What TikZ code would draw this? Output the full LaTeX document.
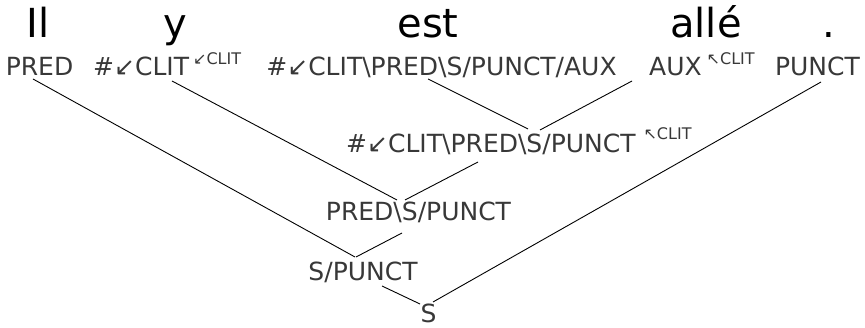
\documentclass[tikz,border=0pt]{standalone}
\usepackage{fontspec}
\setmainfont{DejaVu Sans}
\definecolor{catgray}{HTML}{383838}
\newcommand{\supcat}[2][11]{\raisebox{#1pt}{\fontsize{16}{16}\selectfont #2}}
\tikzset{
  word/.style={font=\fontsize{40}{40}\selectfont, text=black, inner sep=0pt, anchor=base},
  cat/.style={font=\fontsize{25}{25}\selectfont, text=catgray, inner sep=0pt, anchor=base},
  treeedge/.style={draw=black, line width=0.9pt},
}
\begin{document}
\begin{tikzpicture}[x=1pt,y=-1pt]
\useasboundingbox (0,0) rectangle (865,328);
% words
\node[word] (w1) at (38,37.5) {Il};
\node[word] (w2) at (175,37.5) {y};
\node[word] (w3) at (428,37.5) {est};
\node[word] (w4) at (706,37.5) {allé};
\node[word] (w5) at (829,37.5) {.};
% lexical categories
\node[cat] (c1) at (39.5,76) {PRED};
\node[cat, anchor=base west] (c2) at (93,76) {\#↙CLIT\kern4pt\supcat{↙CLIT}};
\node[cat] (c3) at (441.5,76) {\#↙CLIT\textbackslash PRED\textbackslash S/PUNCT/AUX};
\node[cat, anchor=base west] (c4) at (649,76) {AUX\kern5pt\supcat{↖CLIT}};
\node[cat] (c5) at (817.5,76) {PUNCT};
% derived categories
\node[cat, anchor=base west] (m1) at (346,153) {\#↙CLIT\textbackslash PRED\textbackslash S/PUNCT\kern8pt\supcat[13]{↖CLIT}};
\node[cat] (m2) at (418.5,221) {PRED\textbackslash S/PUNCT};
\node[cat] (m3) at (363,281) {S/PUNCT};
\node[cat] (m4) at (428.5,322.5) {S};
% attachment points
\coordinate (c1b) at (33,79);
\coordinate (c2b) at (172,81);
\coordinate (c3b) at (428,79);
\coordinate (c4b) at (632,81);
\coordinate (c5b) at (821,82);
\coordinate (m1tl) at (528,129);
\coordinate (m1tr) at (540,130);
\coordinate (m1b) at (478,162);
\coordinate (m2tl) at (397,200);
\coordinate (m2tr) at (405,200);
\coordinate (m2b) at (402,233);
\coordinate (m3tl) at (355,257);
\coordinate (m3tr) at (356,257);
\coordinate (m3b) at (382,286);
\coordinate (m4tl) at (420,304);
\coordinate (m4tr) at (433,302);
% edges
\draw[treeedge] (c3b) -- (m1tl);
\draw[treeedge] (c4b) -- (m1tr);
\draw[treeedge] (c2b) -- (m2tl);
\draw[treeedge] (m1b) -- (m2tr);
\draw[treeedge] (c1b) -- (m3tl);
\draw[treeedge] (m2b) -- (m3tr);
\draw[treeedge] (m3b) -- (m4tl);
\draw[treeedge] (c5b) -- (m4tr);
\end{tikzpicture}
\end{document}
